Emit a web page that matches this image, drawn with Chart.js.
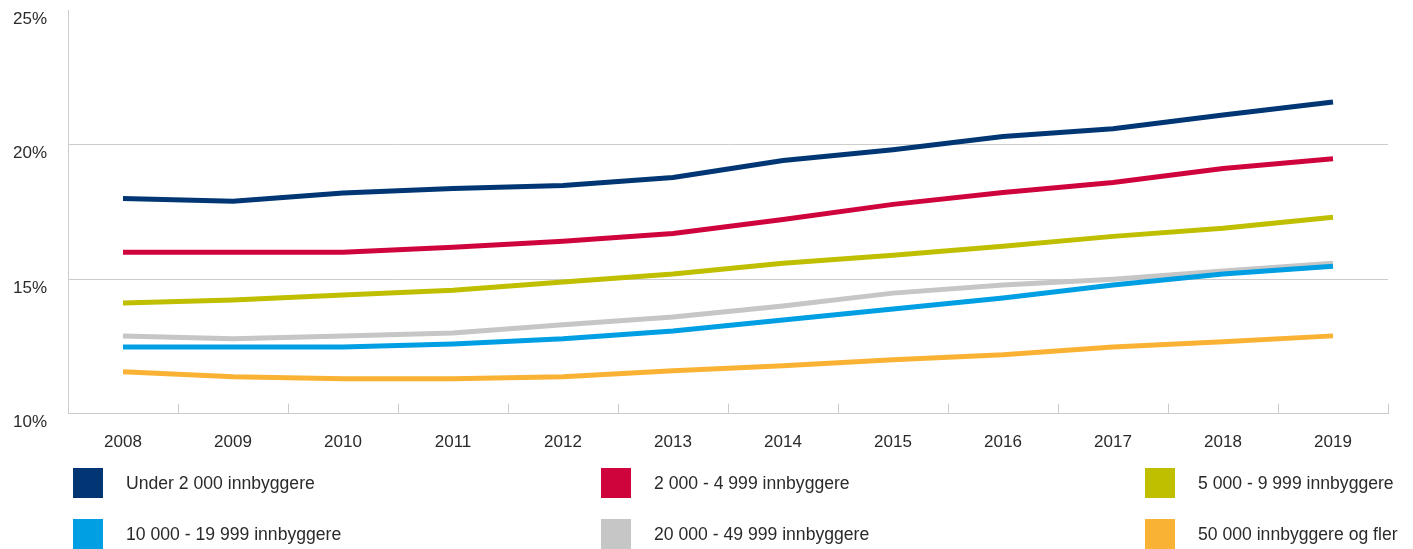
<!DOCTYPE html>
<html>
<head>
<meta charset="utf-8">
<script src="https://cdn.jsdelivr.net/npm/chart.js@4/dist/chart.umd.min.js"></script>
<style>
  html, body { margin: 0; padding: 0; background: #fff; }
  #wrap { position: relative; width: 1413px; height: 549px; overflow: hidden; }
  #c { position: absolute; left: 0; top: 0; }
  .leg { position: absolute; display: flex; align-items: center; height: 30px; font-family: "Liberation Sans", Arial, sans-serif; font-size: 17.6px; color: #2a2a2a; white-space: nowrap; }
  .leg .box { width: 30px; height: 30px; margin-right: 23px; flex: none; }
</style>
</head>
<body>
<div id="wrap">
  <canvas id="c" width="1413" height="549"></canvas>
  <div id="legend"></div>
</div>
<script>
const years = ['2008','2009','2010','2011','2012','2013','2014','2015','2016','2017','2018','2019'];
const seriesNames = ['Under 2 000 innbyggere','2 000 - 4 999 innbyggere','5 000 - 9 999 innbyggere','10 000 - 19 999 innbyggere','20 000 - 49 999 innbyggere','50 000 innbyggere og fler'];
const under2000   = [18.0, 17.9, 18.2, 18.37, 18.48, 18.78, 19.41, 19.81, 20.3, 20.59, 21.1, 21.59];
const s2000_4999  = [16.0, 16.0, 16.0, 16.19, 16.41, 16.7, 17.22, 17.78, 18.22, 18.59, 19.11, 19.48];
const s5000_9999  = [14.11, 14.22, 14.41, 14.59, 14.89, 15.19, 15.59, 15.89, 16.22, 16.59, 16.89, 17.3];
const s10000_19999 = [12.48, 12.48, 12.48, 12.59, 12.78, 13.07, 13.48, 13.89, 14.3, 14.78, 15.19, 15.48];
const s20000_49999 = [12.89, 12.78, 12.89, 13.0, 13.3, 13.59, 14.0, 14.48, 14.78, 15.0, 15.3, 15.59];
const s50000plus  = [11.56, 11.37, 11.3, 11.3, 11.37, 11.59, 11.78, 12.0, 12.19, 12.48, 12.67, 12.89];
const yTicks = [10, 15, 20, 25];
const colors = ['#003673', '#D0043C', '#BFBF00', '#009FE3', '#C6C6C6', '#F9B233'];
const allSeries = [under2000, s2000_4999, s5000_9999, s10000_19999, s20000_49999, s50000plus];

const FONT = '"Liberation Sans", Arial, sans-serif';
const GRID = '#cccccc';

const innerTicks = {
  id: 'innerTicks',
  afterDraw(chart) {
    const x = chart.scales.x, ctx = chart.ctx, bottom = chart.chartArea.bottom;
    ctx.save();
    ctx.strokeStyle = GRID;
    ctx.lineWidth = 1;
    for (let i = 1; i <= years.length; i++) {
      const px = Math.round(x.getPixelForValue(i - 0.5)) + 0.5;
      ctx.beginPath();
      ctx.moveTo(px, bottom);
      ctx.lineTo(px, bottom - 10);
      ctx.stroke();
    }
    ctx.restore();
  }
};

const chart = new Chart(document.getElementById('c'), {
  type: 'line',
  data: {
    labels: years,
    datasets: allSeries.map((d, i) => ({
      label: seriesNames[i],
      data: d,
      borderColor: colors[i],
      backgroundColor: colors[i],
      borderWidth: 5,
      pointRadius: 0,
      tension: 0,
      fill: false,
      borderCapStyle: 'butt'
    }))
  },
  options: {
    responsive: false,
    animation: false,
    layout: { padding: { left: 13, right: 25, top: 6, bottom: 77 } },
    plugins: { legend: { display: false }, tooltip: { enabled: false } },
    scales: {
      x: {
        offset: true,
        grid: { display: false, drawTicks: false },
        border: { display: true, color: GRID, width: 1 },
        ticks: { color: '#2a2a2a', font: { family: FONT, size: 17 }, padding: 19, maxRotation: 0 }
      },
      y: {
        min: 10, max: 25,
        afterBuildTicks(scale) { scale.ticks = yTicks.map(v => ({ value: v })); },
        afterFit(scale) { scale.width = 55; },
        grid: {
          drawTicks: false,
          color: ctx => (ctx.tick && ctx.tick.value === 25) ? 'rgba(0,0,0,0)' : GRID
        },
        border: { display: true, color: GRID, width: 1 },
        ticks: {
          color: '#2a2a2a', font: { family: FONT, size: 17 }, padding: 0,
          crossAlign: 'far', labelOffset: 9,
          callback: v => v + '%'
        }
      }
    }
  },
  plugins: [innerTicks]
});

// HTML legend, 3 columns x 2 rows
const legend = document.getElementById('legend');
const colLeft = [73, 601, 1145];
const rowTop = [468, 519];
seriesNames.forEach((name, i) => {
  const el = document.createElement('div');
  el.className = 'leg';
  el.style.left = colLeft[i % 3] + 'px';
  el.style.top = rowTop[Math.floor(i / 3)] + 'px';
  el.innerHTML = '<span class="box" style="background:' + colors[i] + '"></span><span></span>';
  el.lastChild.textContent = name;
  legend.appendChild(el);
});
</script>
</body>
</html>
